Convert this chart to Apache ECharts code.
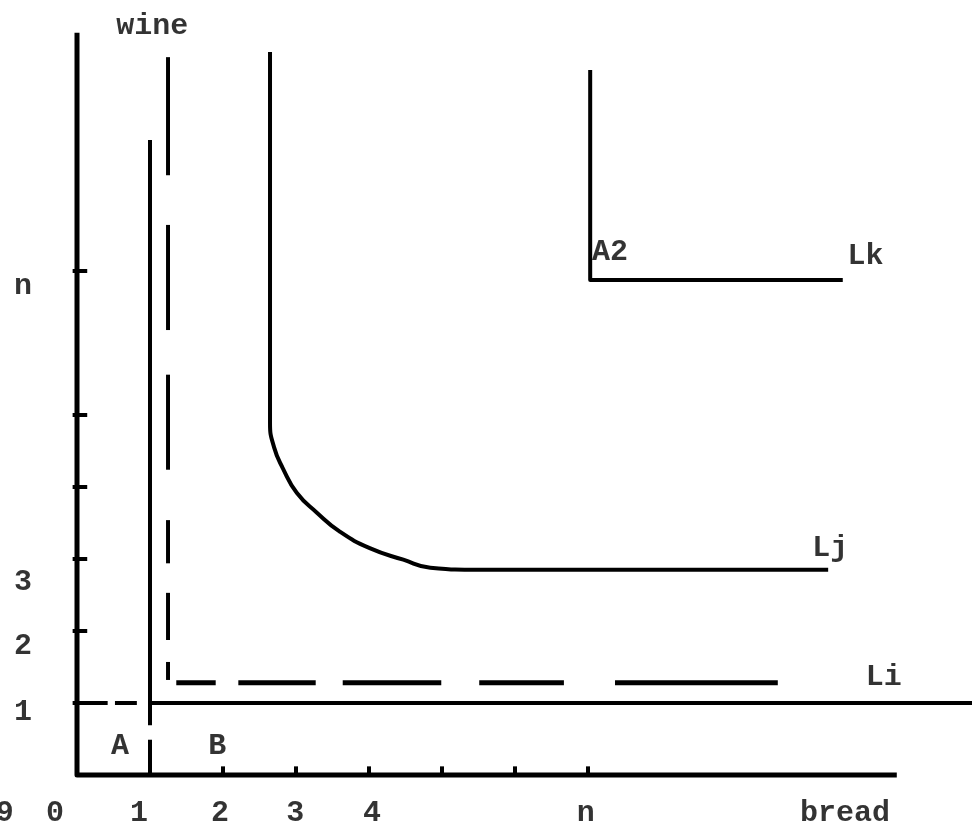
<!DOCTYPE html>
<html><head><meta charset="utf-8">
<script src="https://cdn.jsdelivr.net/npm/echarts@6/dist/echarts.min.js"></script>
<style>html,body{margin:0;padding:0;background:#fff}#c{width:972px;height:835px}</style>
</head><body><div id="c"></div>
<script>
// ---- data (in chart units: bread along x, wine along y) ----
const xTicks = [1, 2, 3, 4, 5, 6, 7];
const yTicks = [1, 2, 3, 4, 5, 7];
const xLabelText = ['9', '0', '1', '2', '3', '4', 'n', 'bread'];
const xLabelAt   = [-0.99, -0.3, 0.85, 1.96, 2.99, 4.04, 6.97, 10.52];
const yLabelText = ['n', '3', '2', '1'];
const yLabelAt   = [6.78, 2.68, 1.78, 0.875];
const axisX = [[0, 10.31], [0, 0], [11.23, 0]];
// Li: solid budget line at wine = 1 and its dashed companion
const liSolid = [[1, 1], [12.3, 1]];
const liLeftDashes = [[0.08, 0.42], [0.52, 0.82]];
const liDashedX = [[1.36, 1.90], [2.21, 3.27], [3.64, 4.99], [5.51, 6.67], [7.37, 9.60]];
const liDashedY = 1.28;
const vSolidX = 1;
const vSolidSpans = [[0, 0.49], [0.69, 8.82]];
const vDashedX = 1.247;
const vDashedSpans = [[9.97, 8.33], [7.64, 6.18], [5.56, 4.24], [3.54, 2.94], [2.53, 1.875], [1.57, 1.32]];
// Lj indifference curve
const ljX = [2.644, 2.644, 2.70, 2.82, 3.01, 3.29, 3.60, 4.01, 4.47, 4.84, 5.52, 10.29];
const ljY = [10.04, 4.89, 4.55, 4.26, 3.92, 3.64, 3.38, 3.15, 2.99, 2.88, 2.85, 2.85];
// Lk corner at A2
const lkX = [7.03, 7.03, 10.49];
const lkY = [9.79, 6.875, 6.875];
// free labels
const noteText = ['wine', 'A2', 'Lk', 'Lj', 'Li', 'A', 'B'];
const noteX = [1.03, 7.30, 10.8, 10.32, 11.05, 0.59, 1.92];
const noteY = [10.39, 7.26, 7.2, 3.15, 1.36, 0.39, 0.39];

const INK = '#000';
const FONT = 'Liberation Mono';
const series = [];
function seg(pts, w, extra) {
  series.push(Object.assign({
    type: 'line', data: pts, symbol: 'none', silent: true, animation: false,
    lineStyle: { color: INK, width: w, cap: 'butt', join: 'round' }
  }, extra || {}));
}
seg(axisX, 5);
xTicks.forEach(t => seg([[t, 0], [t, 0.12]], 4));
yTicks.forEach(t => seg([[-0.06, t], [0.14, t]], 4));
seg(liSolid, 4);
liLeftDashes.forEach(d => seg([[d[0], 1], [d[1], 1]], 4));
liDashedX.forEach(d => seg([[d[0], liDashedY], [d[1], liDashedY]], 5));
vSolidSpans.forEach(s => seg([[vSolidX, s[0]], [vSolidX, s[1]]], 4));
vDashedSpans.forEach(s => seg([[vDashedX, s[0]], [vDashedX, s[1]]], 4));
seg(ljX.map((x, i) => [x, ljY[i]]), 4, { smooth: 0.5 });
seg(lkX.map((x, i) => [x, lkY[i]]), 4);

function labels(xs, ys, texts) {
  series.push({
    type: 'scatter', symbolSize: 0, silent: true, animation: false,
    data: texts.map((t, i) => ({ value: [xs[i], ys[i]], name: t })),
    label: { show: true, position: 'inside', formatter: p => p.name,
      color: INK, fontFamily: FONT, fontWeight: 'bold', fontSize: 30 }
  });
}
labels(xLabelAt, xLabelText.map(() => -0.53), xLabelText);
labels(yLabelText.map(() => -0.74), yLabelAt, yLabelText);
labels(noteX, noteY, noteText);

const chart = echarts.init(document.getElementById('c'));
chart.setOption({
  backgroundColor: '#fff',
  grid: { left: 0, right: 0, top: 0, bottom: 0 },
  xAxis: { type: 'value', min: -77 / 73, max: (972 - 77) / 73, show: false },
  yAxis: { type: 'value', min: -60 / 72, max: 775 / 72, show: false },
  series
});
</script></body></html>
